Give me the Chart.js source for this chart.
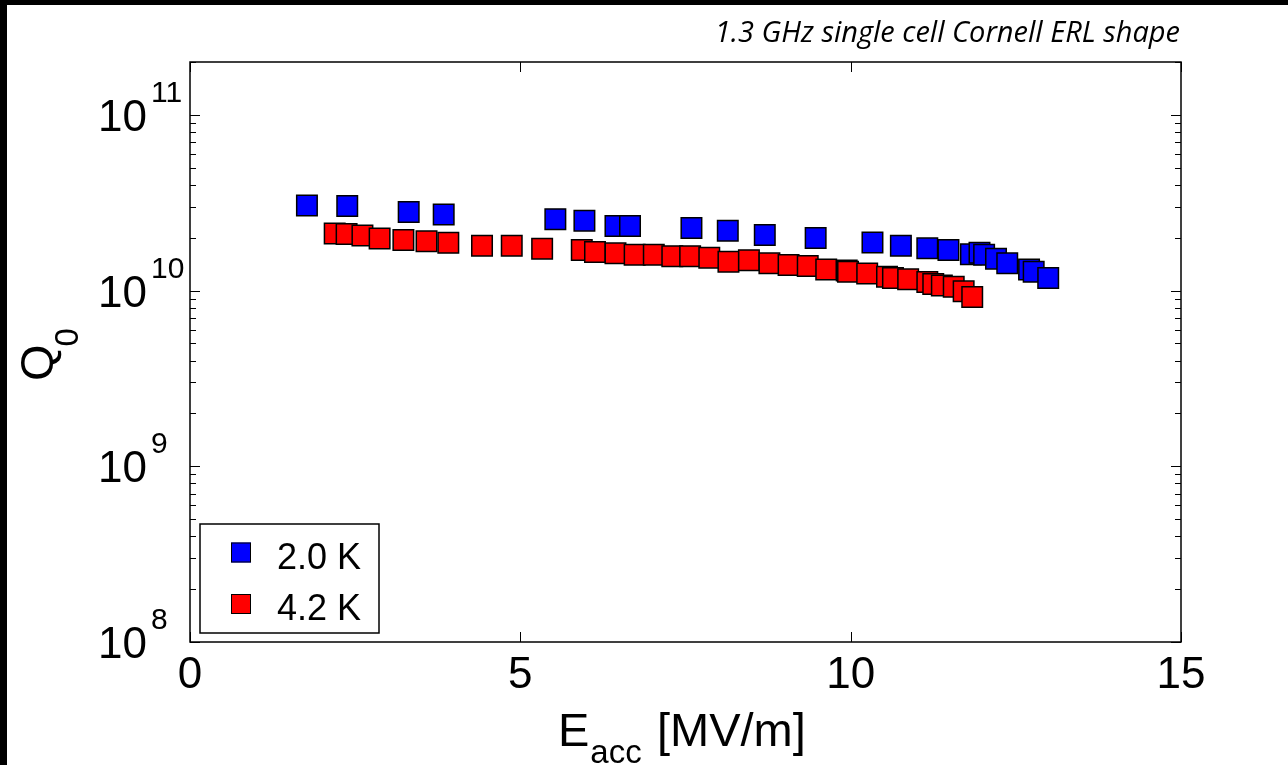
<!DOCTYPE html>
<html>
<head>
<meta charset="utf-8">
<script src="https://cdn.jsdelivr.net/npm/chart.js@4"></script>
<style>
  html, body { margin: 0; padding: 0; background: #fff; }
  #wrap { width: 1288px; height: 765px; }
</style>
</head>
<body>
<div id="wrap"><canvas id="qChart" width="1288" height="765"></canvas></div>
<script>
// Eacc [MV/m] and Q0
const e20 = [1.77, 2.38, 3.31, 3.84, 5.53, 5.97, 6.44, 6.66, 7.59, 8.14, 8.70, 9.47,
    10.33, 10.76, 11.16, 11.48, 11.82, 11.95, 12.02, 12.20, 12.37, 12.70, 12.77, 12.99];
const q20 = [3.05e10, 3.03e10, 2.80e10, 2.71e10, 2.55e10, 2.50e10, 2.33e10, 2.33e10, 2.27e10, 2.19e10, 2.07e10, 1.99e10,
    1.88e10, 1.80e10, 1.74e10, 1.70e10, 1.61e10, 1.64e10, 1.60e10, 1.52e10, 1.43e10, 1.32e10, 1.28e10, 1.18e10];

const e42 = [2.19, 2.37, 2.61, 2.87, 3.23, 3.58, 3.91, 4.42, 4.87, 5.33, 5.93, 6.13,
    6.44, 6.73, 7.02, 7.30, 7.57, 7.86, 8.15, 8.46, 8.77, 9.06, 9.35, 9.63,
    9.94, 9.96, 10.25, 10.55, 10.64, 10.87, 11.16, 11.25, 11.38, 11.56, 11.71, 11.84];
const q42 = [2.11e10, 2.10e10, 2.06e10, 1.98e10, 1.94e10, 1.91e10, 1.87e10, 1.80e10, 1.80e10, 1.73e10, 1.70e10, 1.66e10,
    1.63e10, 1.60e10, 1.60e10, 1.57e10, 1.57e10, 1.54e10, 1.46e10, 1.49e10, 1.43e10, 1.40e10, 1.38e10, 1.32e10,
    1.30e10, 1.28e10, 1.25e10, 1.20e10, 1.18e10, 1.16e10, 1.12e10, 1.09e10, 1.07e10, 1.05e10, 0.99e10, 0.92e10];

const seriesLabels = ['2.0 K', '4.2 K'];
const xTicks = [0, 5, 10, 15];
const yExponents = [8, 9, 10, 11];

const sans = '"Liberation Sans", Arial, sans-serif';

function toPoints(xs, ys) {
    return xs.map((x, i) => ({ x: x, y: ys[i] }));
}

// frame, inward ticks, labels, titles and legend drawn MATLAB style
const matlabAxes = {
    id: 'matlabAxes',
    afterDraw(chart) {
        const ctx = chart.ctx;
        const a = chart.chartArea;
        const xs = chart.scales.x;
        const ys = chart.scales.y;
        ctx.save();

        // black strips at the image edges
        ctx.fillStyle = '#000';
        ctx.fillRect(0, 0, 7, 765);
        ctx.fillRect(0, 0, 1288, 5);

        ctx.strokeStyle = '#000';
        ctx.lineWidth = 1.5;
        ctx.strokeRect(a.left, a.top, a.right - a.left, a.bottom - a.top);

        ctx.lineWidth = 1;
        ctx.beginPath();
        xTicks.forEach(v => {
            const px = Math.round(xs.getPixelForValue(v)) + 0.5;
            ctx.moveTo(px, a.bottom); ctx.lineTo(px, a.bottom - 10);
            ctx.moveTo(px, a.top); ctx.lineTo(px, a.top + 10);
        });
        yExponents.forEach(e => {
            for (let m = 1; m <= 9; m++) {
                const v = m * Math.pow(10, e);
                if (v > ys.max) break;
                const py = Math.round(ys.getPixelForValue(v)) + 0.5;
                const len = m === 1 ? 10 : 6;
                ctx.moveTo(a.left, py); ctx.lineTo(a.left + len, py);
                ctx.moveTo(a.right, py); ctx.lineTo(a.right - len, py);
            }
        });
        ctx.stroke();

        ctx.fillStyle = '#000';
        ctx.font = '44px ' + sans;
        ctx.textAlign = 'center';
        ctx.textBaseline = 'alphabetic';
        xTicks.forEach(v => {
            ctx.fillText(String(v), xs.getPixelForValue(v), a.bottom + 46);
        });

        yExponents.forEach(e => {
            const py = ys.getPixelForValue(Math.pow(10, e));
            ctx.font = '44px ' + sans;
            ctx.textAlign = 'right';
            ctx.fillText('10', 147, py + 16);
            ctx.font = '30px ' + sans;
            ctx.textAlign = 'left';
            ctx.fillText(String(e), 151, py - 13);
        });

        // x axis title E_acc [MV/m]
        ctx.textAlign = 'left';
        ctx.font = '47px ' + sans;
        ctx.fillText('E', 558, 746);
        let w = ctx.measureText('E').width;
        ctx.font = '33px ' + sans;
        ctx.fillText('acc', 558 + w + 1, 763);
        ctx.font = '47px ' + sans;
        ctx.fillText('[MV/m]', 657, 746);

        // y axis title Q_0
        ctx.save();
        ctx.translate(53, 381);
        ctx.rotate(-Math.PI / 2);
        ctx.font = '47px ' + sans;
        ctx.fillText('Q', 0, 0);
        w = ctx.measureText('Q').width;
        ctx.font = '33px ' + sans;
        ctx.fillText('0', w - 2, 25);
        ctx.restore();

        // title
        ctx.font = 'italic 29px "Open Sans", sans-serif';
        ctx.textAlign = 'right';
        ctx.fillText('1.3 GHz single cell Cornell ERL shape', 1180, 42);

        // legend box
        ctx.fillStyle = '#fff';
        ctx.fillRect(200, 524, 179, 109);
        ctx.lineWidth = 1.5;
        ctx.strokeRect(200, 524, 179, 109);
        const rowY = [552.5, 604];
        chart.data.datasets.forEach((ds, i) => {
            ctx.fillStyle = ds.backgroundColor;
            ctx.fillRect(231, rowY[i] - 10, 20, 20);
            ctx.lineWidth = 1;
            ctx.strokeStyle = '#000';
            ctx.strokeRect(231.5, rowY[i] - 9.5, 19, 19);
            ctx.fillStyle = '#000';
            ctx.font = '36px ' + sans;
            ctx.textAlign = 'left';
            ctx.fillText(ds.label, 277, rowY[i] + 16);
        });

        ctx.restore();
    }
};

const ctx = document.getElementById('qChart').getContext('2d');
const qChart = new Chart(ctx, {
    type: 'scatter',
    data: {
        datasets: [{
            label: seriesLabels[0],
            data: toPoints(e20, q20),
            backgroundColor: '#0000ff',
            borderColor: '#000',
            borderWidth: 1.5,
            pointStyle: 'rect',
            pointRadius: 14.5
        }, {
            label: seriesLabels[1],
            data: toPoints(e42, q42),
            backgroundColor: '#ff0000',
            borderColor: '#000',
            borderWidth: 1.5,
            pointStyle: 'rect',
            pointRadius: 14.5
        }]
    },
    options: {
        responsive: false,
        animation: false,
        layout: { padding: { left: 190, top: 62, right: 107, bottom: 123 } },
        plugins: {
            legend: { display: false },
            tooltip: { enabled: false }
        },
        scales: {
            x: { type: 'linear', min: 0, max: 15, display: false },
            y: { type: 'logarithmic', min: 1e8, max: 2e11, display: false }
        }
    },
    plugins: [matlabAxes]
});
</script>
</body>
</html>
